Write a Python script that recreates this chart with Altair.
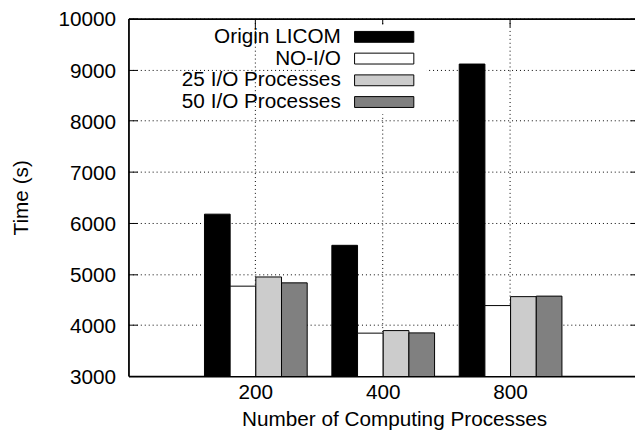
import altair as alt
import pandas as pd

categories = ["200", "400", "800"]
series = ["Origin LICOM", "NO-I/O", "25 I/O Processes", "50 I/O Processes"]
origin_licom = [6170, 5560, 9110]
no_io = [4760, 3840, 4380]
io_25 = [4940, 3890, 4555]
io_50 = [4825, 3845, 4565]
colors = ["#000000", "#ffffff", "#cccccc", "#808080"]
y_ticks = [3000, 4000, 5000, 6000, 7000, 8000, 9000, 10000]

rows = []
for s, vals in zip(series, [origin_licom, no_io, io_25, io_50]):
    for c, v in zip(categories, vals):
        rows.append({"procs": c, "series": s, "time": v})
df = pd.DataFrame(rows)

W, H = 513, 362
FONT = "Liberation Sans"
FS = 21
GRID_DASH = [1, 3]

# legend key: wide box drawn to the right of the right-aligned label;
# the zero-length segments only widen the key's white background
KEY_SHAPE = "M-37.7,0L-37.7,0M18.7,0L18.7,0M4.9,-1.1H16.9V1.1H4.9Z"

xscale = alt.Scale(domain=categories, paddingInner=0, paddingOuter=0.48837, align=0.5119)
yscale = alt.Scale(domain=[3000, 10000], nice=False, zero=False)

txt = dict(labelFont=FONT, labelFontSize=FS, labelColor="black",
           titleFont=FONT, titleFontSize=FS, titleColor="black",
           titleFontWeight="normal")

bars = alt.Chart(df).mark_bar(stroke="black", strokeWidth=1, clip=True).encode(
    x=alt.X("procs:N", sort=categories, scale=xscale,
            axis=alt.Axis(orient="bottom", title="Number of Computing Processes",
                          labelAngle=0, ticks=False, tickSize=0, domain=True,
                          domainColor="black", domainWidth=1.8,
                          grid=True, gridColor="black", gridDash=GRID_DASH, gridWidth=1,
                          bandPosition=0.5, labelPadding=6, titlePadding=6,
                          titleX=269, **txt)),
    xOffset=alt.XOffset("series:N", sort=series,
                        scale=alt.Scale(domain=series, paddingInner=0, paddingOuter=0.48)),
    y=alt.Y("time:Q", scale=yscale,
            axis=alt.Axis(orient="left", title="Time (s)", values=y_ticks, format="d",
                          ticks=False, tickSize=0, domain=True, domainColor="black",
                          domainWidth=1.8, grid=True, gridColor="black",
                          gridDash=GRID_DASH, gridWidth=1, labelPadding=13,
                          labelOffset=1.5, titlePadding=27, **txt)),
    color=alt.Color("series:N", sort=series,
                    scale=alt.Scale(domain=series, range=colors),
                    legend=alt.Legend(orient="none", legendX=192, legendY=6, title=None,
                                      labelFontSize=FS, labelFont=FONT, labelColor="black",
                                      labelAlign="right", labelOffset=0, symbolOffset=0,
                                      labelLimit=400,
                                      symbolType=KEY_SHAPE,
                                      symbolSize=100, symbolStrokeColor="black",
                                      symbolStrokeWidth=1, symbolOpacity=1,
                                      fillColor="white", padding=2, rowPadding=0)),
)

# invisible layer carrying top border and inward left ticks
frame1 = alt.Chart(df).mark_bar(opacity=0, clip=True).encode(
    x=alt.X("procs:N", sort=categories, scale=xscale,
            axis=alt.Axis(orient="top", title=None, labels=False, ticks=False,
                          domain=True, domainColor="black", domainWidth=1.8, grid=False)),
    y=alt.Y("time:Q", scale=yscale,
            axis=alt.Axis(orient="right", offset=-W, title=None, labels=False,
                          values=y_ticks, ticks=True, tickSize=9, tickColor="black",
                          tickWidth=1, domain=False, grid=False)),
)

# invisible layer carrying inward top ticks and right ticks
frame2 = alt.Chart(df).mark_bar(opacity=0, clip=True).encode(
    x=alt.X("procs:N", sort=categories, scale=xscale,
            axis=alt.Axis(orient="bottom", offset=-H, title=None, labels=False,
                          ticks=True, tickSize=8, tickColor="black", tickWidth=1,
                          bandPosition=0.5, domain=False, grid=False)),
    y=alt.Y("time:Q", scale=yscale,
            axis=alt.Axis(orient="left", offset=-W, title=None, labels=False,
                          values=y_ticks, ticks=True, tickSize=5, tickColor="black",
                          tickWidth=1, domain=False, grid=False)),
)

chart = alt.layer(bars, frame1, frame2).resolve_axis(
    x="independent", y="independent"
).properties(
    width=W, height=H,
    autosize=alt.AutoSizeParams(type="none"),
    padding={"left": 122, "top": 8, "right": 0, "bottom": 58},
).configure_view(stroke=None)

chart.save("out.html", embed_options={"renderer": "svg", "actions": False})
